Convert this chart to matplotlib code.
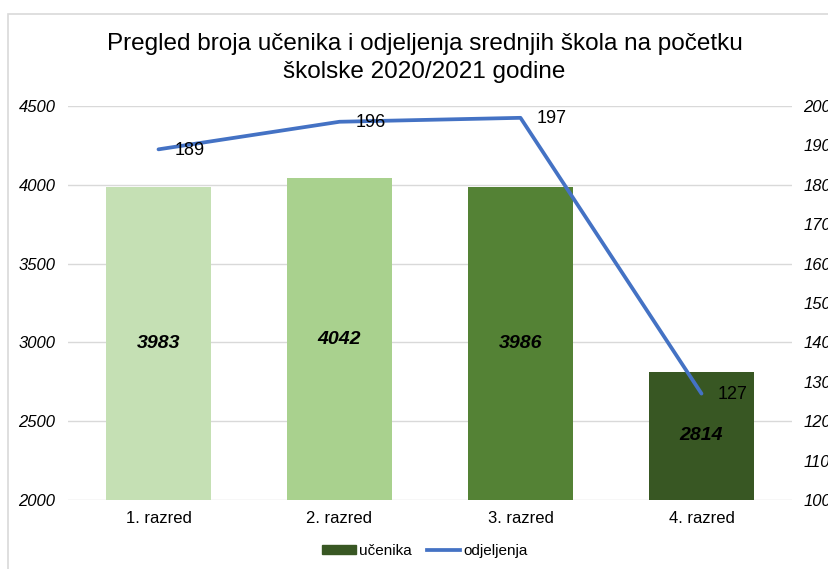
import matplotlib.pyplot as plt
from matplotlib.patches import Rectangle
from matplotlib.lines import Line2D
import numpy as np

# Podaci
razredi = ["1. razred", "2. razred", "3. razred", "4. razred"]
ucenika = [3983, 4042, 3986, 2814]
odjeljenja = [189, 196, 197, 127]
boje = ["#C5E0B4", "#A9D18E", "#548235", "#385723"]

plt.rcParams['font.family'] = ['Liberation Sans', 'DejaVu Sans']

fig = plt.figure(figsize=(8.29, 5.69), dpi=100)
ax = fig.add_axes([68/829, 69/569, 724/829, 394/569])
ax2 = ax.twinx()

# okvir grafikona
fig.patches.append(Rectangle((8/829, -0.1), 1.2, 1 - 14/569 + 0.1,
                             transform=fig.transFigure, fill=False,
                             edgecolor="#D9D9D9", linewidth=1.2))

x = np.arange(len(razredi))
bars = ax.bar(x, ucenika, width=0.58, color=boje, zorder=2)
ax.set_ylim(2000, 4500)
ax.set_yticks(np.arange(2000, 4501, 500))
ax.set_xlim(-0.5, 3.5)
ax.grid(axis='y', color="#D9D9D9", linewidth=1, zorder=0)
ax.set_axisbelow(True)
ax.set_xticks(x)
ax.set_xticklabels(razredi, fontsize=12)
ax.tick_params(axis='x', length=0, pad=8)
ax.tick_params(axis='y', length=0, pad=9)
for lbl in ax.get_yticklabels():
    lbl.set_fontstyle('italic')
    lbl.set_fontsize(12)

for xi, v in zip(x, ucenika):
    ax.text(xi, (v + 2000) / 2, str(v), ha='center', va='center',
            fontsize=14, fontweight='bold', fontstyle='italic')

ax2.plot(x, odjeljenja, color="#4472C4", linewidth=2.7, zorder=3,
         solid_capstyle='round')
ax2.set_ylim(100, 200)
ax2.set_yticks(np.arange(100, 201, 10))
ax2.tick_params(axis='y', length=0, pad=8)
for lbl in ax2.get_yticklabels():
    lbl.set_fontstyle('italic')
    lbl.set_fontsize(12)

for xi, v in zip(x, odjeljenja):
    ax2.annotate(str(v), (xi, v), xytext=(31, -1), textcoords='offset pixels',
                 ha='center', va='center', fontsize=13)

for a in (ax, ax2):
    for s in a.spines.values():
        s.set_visible(False)

fig.text(0.512, 1 - 58/569, "Pregled broja učenika i odjeljenja srednjih škola na početku\nškolske 2020/2021 godine",
         ha='center', va='center', fontsize=17.5, linespacing=1.3)

handles = [Rectangle((0, 0), 1, 1, color="#385723"),
           Line2D([0], [0], color="#4472C4", linewidth=2.7)]
fig.legend(handles, ["učenika", "odjeljenja"], loc='center',
           bbox_to_anchor=(425/829, 1 - 551/569), ncol=2, frameon=False,
           fontsize=11, handlelength=2.2, handleheight=0.5,
           handletextpad=0.2, columnspacing=1.0)

fig.savefig("out.png", dpi=100)
